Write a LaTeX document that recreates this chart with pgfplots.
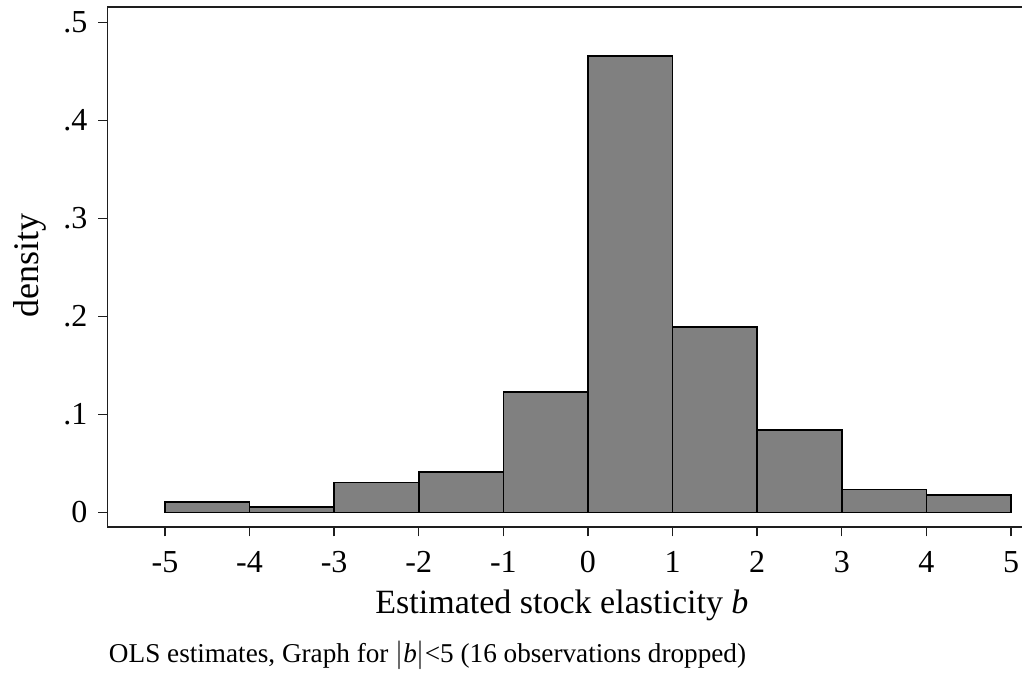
\documentclass[border=0pt]{standalone}
\usepackage{fontspec}
\setmainfont{Liberation Serif}
\usepackage{pgfplots}
\pgfplotsset{compat=1.18}
\definecolor{bargray}{RGB}{128,128,128}
\definecolor{linegray}{RGB}{30,30,30}

\begin{document}
\begin{tikzpicture}
\begin{axis}[
    name=ax,
    at={(0,0)}, anchor=south west,
    scale only axis,
    width=457.3pt, height=260.2pt,
    xmin=-5.68, xmax=5.13,
    ymin=-0.0153, ymax=0.516,
    axis x line*=bottom, axis y line*=left,
    axis line style={-, linegray},
    x axis line style={line width=1.1pt},
    y axis line style={line width=0.8pt},
    tick align=outside,
    major tick length=4.5pt,
    tick style={linegray, line width=0.7pt},
    xtick={-5,-4,-3,-2,-1,0,1,2,3,4,5},
    xticklabels={-5,-4,-3,-2,-1,0,1,2,3,4,5},
    ytick={0,0.1,0.2,0.3,0.4,0.5},
    yticklabels={0,.1,.2,.3,.4,.5},
    ticklabel style={font=\fontsize{16}{16}\selectfont},
    xticklabel style={yshift=-4pt},
    yticklabel style={xshift=-2pt},
    xlabel={Estimated stock elasticity \textit{b}},
    xlabel style={at={(axis description cs:0.497,-0.1495)}, anchor=center,
        font=\fontsize{17}{17}\selectfont},
    ylabel={density},
    ylabel style={at={(axis description cs:-0.0842,0.504)}, anchor=center,
        font=\fontsize{18}{18}\selectfont},
    clip=false,
]
\addplot[ybar interval, fill=bargray, draw=black, line width=0.8pt]
  coordinates {(-5,0.0105) (-4,0.0054) (-3,0.0306) (-2,0.0415) (-1,0.123)
               (0,0.466) (1,0.189) (2,0.084) (3,0.0235) (4,0.0177) (5,0.0177)};
\end{axis}
\draw[linegray, line width=1pt] (ax.north west) -- (ax.north east);
\node[anchor=west, inner sep=0pt, font=\fontsize{13.6}{13.6}\selectfont]
  at (0.6pt,-63.9pt) {OLS estimates, Graph for $|$\textit{b}$|$<5 (16 observations dropped)};
\pgfresetboundingbox
\useasboundingbox (-53.7pt,-72.85pt) rectangle (457.3pt,263.7pt);
\end{tikzpicture}
\end{document}
